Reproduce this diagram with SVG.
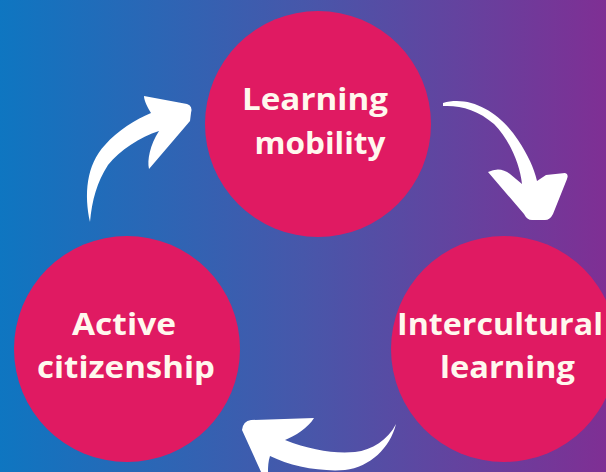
<svg xmlns="http://www.w3.org/2000/svg" width="606" height="472" viewBox="0 0 606 472">
<defs>
<linearGradient id="bg" x1="0" y1="0" x2="1" y2="0">
<stop offset="0" stop-color="#0e76c1"/>
<stop offset="0.5" stop-color="#4757aa"/>
<stop offset="1" stop-color="#7f2f94"/>
</linearGradient>
<style>
.node{fill:#e01a62}
.lbl{font-family:"Open Sans","Liberation Sans",sans-serif;font-weight:700;font-size:31px;fill:#fff8ee;text-anchor:middle}
.arrow{fill:#ffffff}
</style>
</defs>
<rect x="0" y="0" width="606" height="472" fill="url(#bg)"/>
<g id="node-learning-mobility">
<circle class="node" cx="318" cy="124" r="113"/>
<text class="lbl" x="315" y="110" textLength="146" lengthAdjust="spacingAndGlyphs">Learning</text>
<text class="lbl" x="320" y="154" textLength="131" lengthAdjust="spacingAndGlyphs">mobility</text>
</g>
<g id="node-intercultural-learning">
<circle class="node" cx="504" cy="349" r="113"/>
<text class="lbl" x="500" y="335" textLength="206" lengthAdjust="spacingAndGlyphs">Intercultural</text>
<text class="lbl" x="507.5" y="378" textLength="135" lengthAdjust="spacingAndGlyphs">learning</text>
</g>
<g id="node-active-citizenship">
<circle class="node" cx="127" cy="349" r="113"/>
<text class="lbl" x="124" y="335" textLength="104" lengthAdjust="spacingAndGlyphs">Active</text>
<text class="lbl" x="126" y="378" textLength="178" lengthAdjust="spacingAndGlyphs">citizenship</text>
</g>
<g id="connectors">
<path class="arrow" d="M 90 222 C 84 195, 86 165, 105 145 C 118 130, 135 120, 151 113 C 148 108, 144 101, 144 96 L 187 104 Q 193 106, 191 113 L 190 121 L 149 169 C 147 160, 150 145, 159 131 C 140 137, 120 150, 108 165 C 97 182, 92 200, 90 222 Z"/>
<path class="arrow" d="M 443 103 C 470 95, 500 112, 518 140 C 528 155, 534 168, 537 181 L 546 175 L 565 173 Q 569 174, 567 179 L 553 214 Q 550 220, 545 220 L 532 220 Q 527 220, 524 214 L 488 172 Q 500 166, 510 174 L 522 184 C 520 165, 510 140, 494 124 C 478 110, 460 105, 443 106 Z"/>
<path class="arrow" d="M 396 424 C 388 440, 372 450, 355 452 C 335 454, 310 450, 285 440 C 295 436, 308 428, 314 418 L 251 420 Q 243 421, 242 430 L 262 474 L 268 474 C 268 468, 268 462, 270 456 C 290 466, 320 472, 345 470 C 370 467, 390 448, 396 424 Z"/>
</g>
</svg>
